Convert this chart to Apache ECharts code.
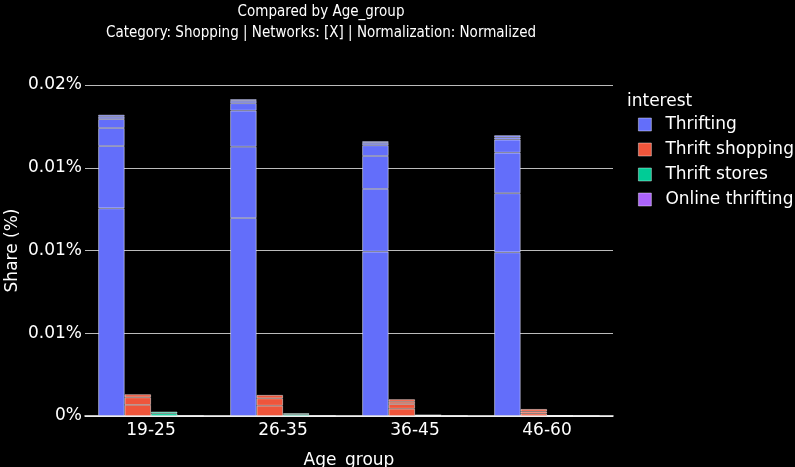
<!DOCTYPE html>
<html>
<head>
<meta charset="utf-8">
<script src="https://cdn.jsdelivr.net/npm/echarts@6/dist/echarts.min.js"></script>
<style>
html,body{margin:0;padding:0;background:#000;}
#chart{width:795px;height:467px;}
</style>
</head>
<body>
<div id="chart"></div>
<script>
const ageGroups = ['19-25', '26-35', '36-45', '46-60'];
const interests = ['Thrifting', 'Thrift shopping', 'Thrift stores', 'Online thrifting'];
const yTicks = [0, 0.005, 0.01, 0.015, 0.02];

// stacked segment values (Share %), bottom to top, one row per age group
const thriftingSegments = [
  [0.01255, 0.00376, 0.00109, 0.00054, 0.00014, 0.00012],
  [0.01196, 0.00431, 0.00218, 0.00045, 0.00014, 0.00010],
  [0.00993, 0.00379, 0.00199, 0.00065, 0.00014, 0.00010],
  [0.00989, 0.00357, 0.00245, 0.00079, 0.00013, 0.00013]
];
const thriftShoppingSegments = [
  [0.00067, 0.00046, 0.00018],
  [0.00062, 0.00045, 0.00020],
  [0.00044, 0.00028, 0.00014, 0.00015],
  [0.00015, 0.00012, 0.00015]
];
const thriftStoresSegments = [
  [0.00016, 0.00010],
  [0.00010, 0.00006],
  [0.00004, 0.00002],
  [0.00001, 0.00001]
];
const onlineThriftingSegments = [
  [0.00001],
  [0.00001],
  [0.00001],
  [0.00002]
];

const colors = ['#636efa', '#EF553B', '#00cc96', '#ab63fa'];
const segmentSets = [thriftingSegments, thriftShoppingSegments, thriftStoresSegments, onlineThriftingSegments];

const series = [];
segmentSets.forEach((segs, i) => {
  const maxLen = Math.max(...segs.map(s => s.length));
  for (let k = 0; k < maxLen; k++) {
    series.push({
      type: 'bar',
      name: interests[i],
      stack: interests[i],
      barGap: '0%',
      barCategoryGap: '20%',
      itemStyle: { color: colors[i], borderColor: 'rgba(255,255,255,0.6)', borderWidth: 0.8 },
      emphasis: { disabled: true },
      data: segs.map(s => (s[k] === undefined ? '-' : s[k]))
    });
  }
});

const FONT = 'DejaVu Sans';
const chart = echarts.init(document.getElementById('chart'), null, { renderer: 'canvas' });
chart.setOption({
  backgroundColor: '#000',
  animation: false,
  textStyle: { fontFamily: FONT, color: '#fff' },
  title: [
    {
      text: 'Compared by Age_group',
      left: 316, top: 0, textAlign: 'center',
      textStyle: { color: '#fff', fontFamily: 'DejaVu Sans Condensed', fontSize: 15, fontWeight: 'normal' }
    },
    {
      text: 'Category: Shopping | Networks: [X] | Normalization: Normalized',
      left: 316, top: 21, textAlign: 'center',
      textStyle: { color: '#fff', fontFamily: 'DejaVu Sans Condensed', fontSize: 15, fontWeight: 'normal' }
    }
  ],
  legend: {
    orient: 'vertical',
    left: 638, top: 116,
    padding: 0,
    itemWidth: 13, itemHeight: 13, itemGap: 8,
    icon: 'rect',
    data: interests,
    textStyle: { color: '#fff', fontFamily: FONT, fontSize: 17, padding: [0, 0, 0, 9] },
    itemStyle: { borderColor: 'rgba(255,255,255,0.5)', borderWidth: 0.8 }
  },
  graphic: [{
    type: 'text', left: 627, top: 93,
    style: { text: 'interest', fill: '#fff', font: '17px "DejaVu Sans"' }
  }],
  grid: { left: 85, right: 182, top: 85, bottom: 51, containLabel: false, outerBoundsMode: 'none' },
  xAxis: {
    type: 'category',
    data: ageGroups,
    name: 'Age_group',
    nameLocation: 'middle',
    nameGap: 36,
    nameMoveOverlap: false,
    nameTextStyle: { color: '#fff', fontSize: 17, fontFamily: FONT },
    axisLine: { show: true, lineStyle: { color: '#fff', width: 1.5 } },
    axisTick: { show: false },
    axisLabel: { color: '#fff', fontSize: 17, fontFamily: FONT, margin: 6 }
  },
  yAxis: {
    type: 'value',
    min: yTicks[0], max: yTicks[yTicks.length - 1], interval: yTicks[1] - yTicks[0],
    name: 'Share (%)',
    nameLocation: 'middle',
    nameGap: 64,
    nameMoveOverlap: false,
    nameTextStyle: { color: '#fff', fontSize: 17, fontFamily: FONT },
    axisLine: { show: false },
    axisTick: { show: false },
    splitLine: { lineStyle: { color: '#bbbbbb', width: 1 } },
    axisLabel: {
      color: '#fff', fontSize: 17, fontFamily: FONT, margin: 3,
      formatter: v => (v === 0 ? '0%' : v.toFixed(2) + '%')
    }
  },
  series: series
});
</script>
</body>
</html>
